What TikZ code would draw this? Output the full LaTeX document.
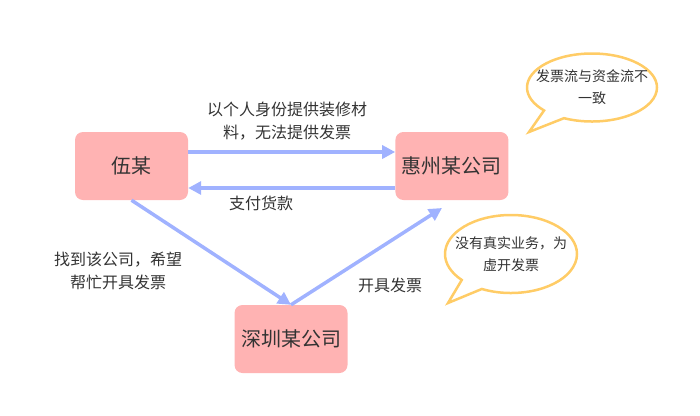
\documentclass[tikz,border=0pt]{standalone}
\usepackage{fontspec}
\setmainfont{Noto Sans CJK SC}
\usetikzlibrary{arrows.meta,positioning,shapes.callouts}
\definecolor{boxpink}{RGB}{255,179,179}
\definecolor{flowblue}{RGB}{160,178,255}
\definecolor{bubbleyellow}{RGB}{255,204,102}
\definecolor{inkgray}{RGB}{51,51,51}
\tikzset{
    firm/.style={fill=boxpink, rounded corners=8pt, minimum width=113pt, minimum height=68pt, text=inkgray, font=\fontsize{20}{24}\selectfont},
    flow/.style={-{Triangle[length=13pt, width=13pt]}, line width=3.5pt, flowblue},
    flowtext/.style={align=center, text=inkgray, font=\fontsize{16}{23}\selectfont},
    bubble/.style={ellipse callout, draw=bubbleyellow, line width=2.5pt, fill=white, callout pointer arc=22},
    bubbletext/.style={align=center, text=inkgray, font=\fontsize{14}{22}\selectfont}
}
\begin{document}
\begin{tikzpicture}[x=1pt, y=-1pt]
    \useasboundingbox (0,0) rectangle (700,415);
    \node[firm] (wu) at (131.5,166) {伍某};
    \node[firm, right=207pt of wu] (huizhou) {惠州某公司};
    \node[firm] (shenzhen) at (291,339) {深圳某公司};
    \coordinate (hzin) at (442,208);

    \draw[flow] ([yshift=14pt]wu.east) -- ([yshift=14pt]huizhou.west);
    \draw[flow] ([yshift=-22pt]huizhou.west) -- ([yshift=-22pt]wu.east);
    \draw[flow] (wu.south) -- (shenzhen.north);
    \draw[flow] (shenzhen.north) -- (hzin);

    \node[flowtext] (material) at (287,121.5) {以个人身份提供装修材\\料，无法提供发票};
    \node[flowtext] (payment) at (261,203) {支付货款};
    \node[flowtext] (request) at (118,271) {找到该公司，希望\\帮忙开具发票};
    \node[flowtext] (issue) at (390,285) {开具发票};

    \node[bubble, minimum width=130pt, minimum height=68pt, callout absolute pointer={(529,132)}] (mismatch) at (592,87.5) {};
    \node[bubbletext] (mismatchtext) at (mismatch.center) {发票流与资金流不\\一致};
    \node[bubble, minimum width=132pt, minimum height=78pt, callout absolute pointer={(448,303)}] (fake) at (511,254) {};
    \node[bubbletext] (faketext) at (fake.center) {没有真实业务，为\\虚开发票};
\end{tikzpicture}
\end{document}
